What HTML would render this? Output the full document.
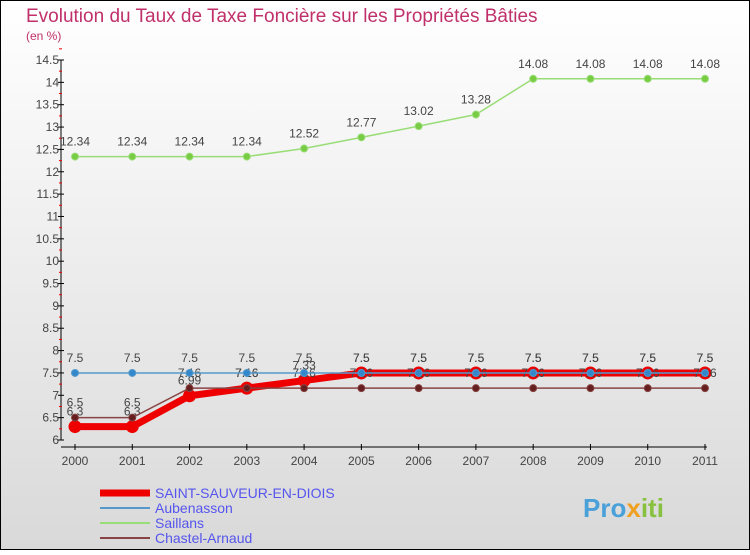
<!DOCTYPE html>
<html><head><meta charset="utf-8"><style>
body{margin:0;background:#fff}
#c{width:750px;height:550px;position:relative;font-family:"Liberation Sans",sans-serif}
</style></head><body>
<div id="c">
<svg id="s" width="750" height="550" xmlns="http://www.w3.org/2000/svg">
<defs><linearGradient id="bg" x1="0" y1="0" x2="0" y2="1"><stop offset="0" stop-color="#ffffff"/><stop offset="1" stop-color="#d9d9d9"/></linearGradient></defs>
<rect x="0.5" y="0.5" width="749" height="549" fill="url(#bg)" stroke="#000"/>
<text x="26" y="22" font-size="19" fill="#c0306a">Evolution du Taux de Taxe Foncière sur les Propriétés Bâties</text>
<text x="26" y="40" font-size="12" fill="#c0306a">(en %)</text>
<g id="axes"></g><g id="series"></g>
<g id="legend"></g>
<text x="583" y="517" font-size="26" font-weight="bold" fill="#4aa0d8">Pro<tspan fill="#f0a020">x</tspan><tspan fill="#88c040">iti</tspan></text>
</svg></div>
<script>
const years=[2000,2001,2002,2003,2004,2005,2006,2007,2008,2009,2010,2011];
const yTicks=[6,6.5,7,7.5,8,8.5,9,9.5,10,10.5,11,11.5,12,12.5,13,13.5,14,14.5];
const saintSauveur=[6.3,6.3,6.99,7.16,7.33,7.5,7.5,7.5,7.5,7.5,7.5,7.5];
const aubenasson=[7.5,7.5,7.5,7.5,7.5,7.5,7.5,7.5,7.5,7.5,7.5,7.5];
const saillans=[12.34,12.34,12.34,12.34,12.52,12.77,13.02,13.28,14.08,14.08,14.08,14.08];
const chastel=[6.5,6.5,7.16,7.16,7.16,7.16,7.16,7.16,7.16,7.16,7.16,7.16];
const NS="http://www.w3.org/2000/svg";
const X=i=>75+i*(630/(years.length-1));
const Y=v=>440-(v-6)*(380/8.5);
function mk(t,a,p){const e=document.createElementNS(NS,t);for(const k in a)e.setAttribute(k,a[k]);p.appendChild(e);return e;}
const ax=document.getElementById('axes');
let yl=mk('line',{x1:61,y1:Y(14.5),x2:61,y2:Y(6),stroke:'#000'},ax);


let xl=mk('line',{x1:61,y1:447,x2:X(11)+2,y2:447,stroke:'#000'},ax);


yTicks.forEach(v=>{
 mk('line',{x1:58,y1:Y(v),x2:64,y2:Y(v),stroke:'#000'},ax);
 mk('line',{x1:59,y1:Y(v+0.25),x2:62,y2:Y(v+0.25),stroke:'#e00'},ax);
 const t=mk('text',{x:59,y:Y(v)+4,'font-size':12,'text-anchor':'end',fill:'#444'},ax);
 t.textContent=String(v);
 
 
});
years.forEach((y,i)=>{
 mk('line',{x1:X(i),y1:444,x2:X(i),y2:450,stroke:'#000'},ax);
 const t=mk('text',{x:X(i),y:465,'font-size':12,'text-anchor':'middle',fill:'#444'},ax);
 t.textContent=String(y);
 
 
});
const sg=document.getElementById('series');
function draw(vals,color,w,r,dot,name){
 const g=mk('g',{},sg);
 
 
 mk('polyline',{points:vals.map((v,i)=>X(i)+','+Y(v)).join(' '),fill:'none',stroke:color,'stroke-width':w},g);
 vals.forEach((v,i)=>{
  const c=mk('circle',{cx:X(i),cy:Y(v),r:r,fill:dot,stroke:color,'stroke-width':1},g);
  
  
  const t=mk('text',{x:X(i),y:Y(v)-11,'font-size':12,'text-anchor':'middle',fill:'#444'},g);
  t.textContent=String(v);
  
  
 });
}
draw(saillans,'#99dd77',1.5,3.5,'#77cc44','series-saillans');
draw(saintSauveur,'#ee0000',7,6,'#ee0000','series-saint-sauveur');
draw(chastel,'#884444',1.5,3.5,'#661f1f','series-chastel-arnaud');
draw(aubenasson,'#5599cc',1.5,3.5,'#3388cc','series-aubenasson');
const lg=document.getElementById('legend');
const leg=[['SAINT-SAUVEUR-EN-DIOIS','#ee0000',7],['Aubenasson','#5599cc',2],['Saillans','#99dd77',2],['Chastel-Arnaud','#884444',2]];
leg.forEach((l,i)=>{
 const y=493+i*15;
 const g=mk('g',{},lg);
 
 
 mk('line',{x1:100,y1:y,x2:150,y2:y,stroke:l[1],'stroke-width':l[2]},g);
 const t=mk('text',{x:155,y:y+5,'font-size':14,fill:'#5555ee'},g);
 t.textContent=l[0];
});
</script>
</body></html>
